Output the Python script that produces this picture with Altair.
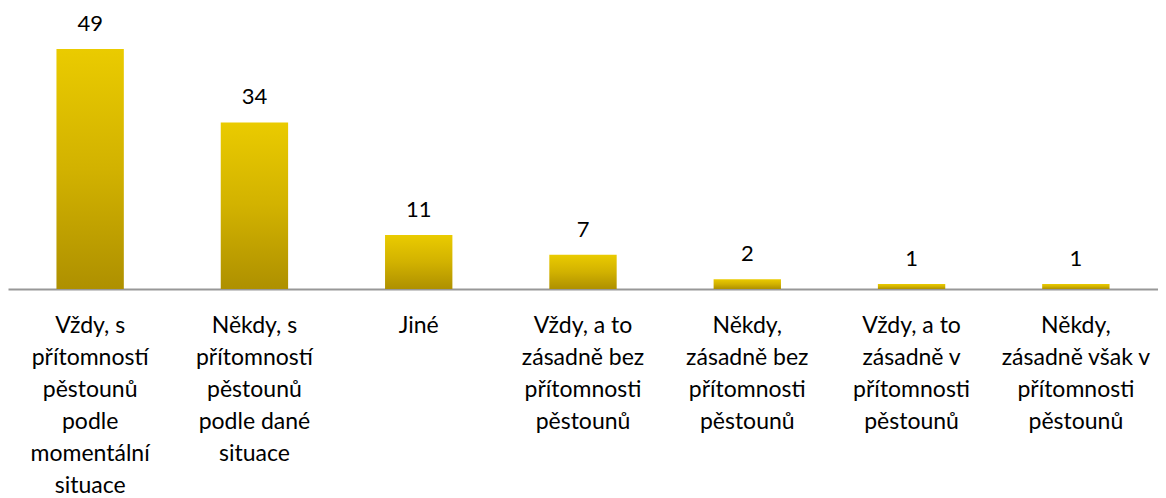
import altair as alt
import pandas as pd

categories = [
    "Vždy, s|přítomností|pěstounů|podle|momentální|situace",
    "Někdy, s|přítomností|pěstounů|podle dané|situace",
    "Jiné",
    "Vždy, a to|zásadně bez|přítomnosti|pěstounů",
    "Někdy,|zásadně bez|přítomnosti|pěstounů",
    "Vždy, a to|zásadně v|přítomnosti|pěstounů",
    "Někdy,|zásadně však v|přítomnosti|pěstounů",
]
values = [49, 34, 11, 7, 2, 1, 1]

df = pd.DataFrame({"cat": categories, "val": values})

FONT = "Lato"

x = alt.X(
    "cat:N",
    sort=None,
    title=None,
    scale=alt.Scale(paddingInner=0.59, paddingOuter=0.295),
    axis=alt.Axis(
        labelExpr="split(datum.value, '|')",
        labelAngle=0,
        labelFont=FONT,
        labelFontSize=23,
        labelColor="#000000",
        labelLineHeight=32,
        labelPadding=25,
        labelBaseline="top",
        ticks=False,
        domainColor="#989898",
        domainWidth=2,
        labelLimit=300,
    ),
)
y = alt.Y("val:Q", title=None, scale=alt.Scale(domain=[0, 57.35], nice=False), axis=None)

grad = alt.Gradient(
    gradient="linear",
    stops=[
        alt.GradientStop(color="#EACB00", offset=0),
        alt.GradientStop(color="#D2B200", offset=0.5),
        alt.GradientStop(color="#AE9000", offset=1),
    ],
    x1=0, x2=0, y1=0, y2=1,
)

bars = alt.Chart(df).mark_bar(color=grad).encode(x=x, y=y)
labels = alt.Chart(df).mark_text(
    font=FONT, fontSize=22, color="#000000", baseline="alphabetic", dy=-18
).encode(x=x, y=y, text="val:Q")

chart = (bars + labels).properties(width=1150, height=281, padding=0).configure_view(
    strokeWidth=0
)

chart.save("out.html", embed_options={"renderer": "svg", "actions": False})
